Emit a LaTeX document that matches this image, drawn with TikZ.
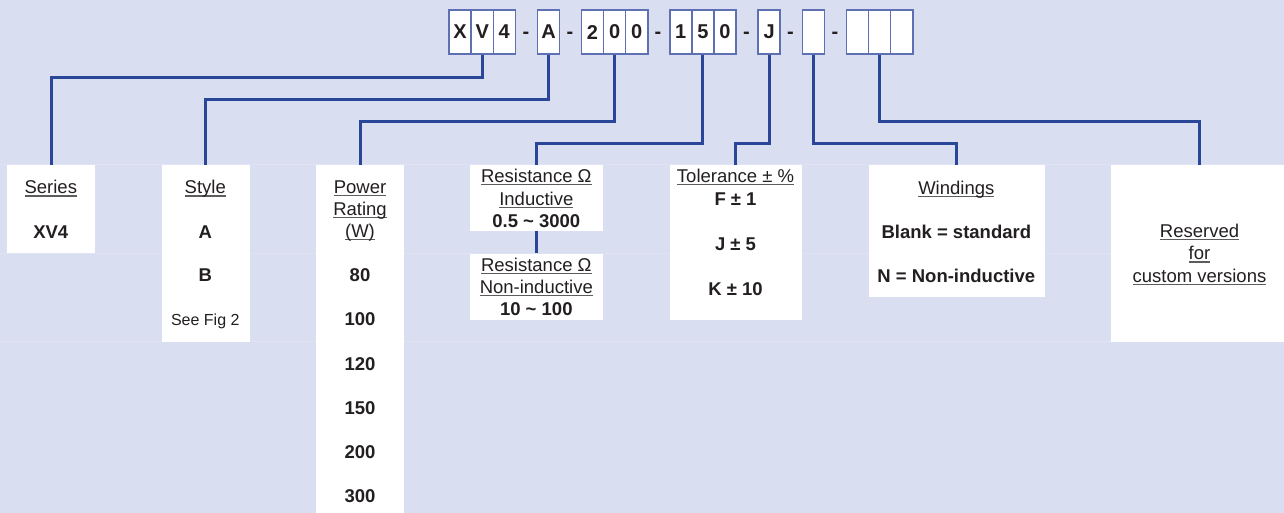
\documentclass[tikz,border=0pt]{standalone}
\usepackage{fontspec}
\setmainfont{Liberation Sans}
\definecolor{bg}{HTML}{D9DEF0}
\definecolor{conn}{HTML}{2A4698}
\definecolor{cellb}{HTML}{5E70B3}
\definecolor{txt}{HTML}{231F20}
\definecolor{ulc}{HTML}{5C5C5C}
\definecolor{gridc}{HTML}{DFE3F3}
\newsavebox\ulbox
\newcommand\ulx[1]{\sbox\ulbox{#1}\rlap{\color{ulc}\rule[-2.8pt]{\wd\ulbox}{1.2pt}}\usebox\ulbox}
\begin{document}
\begin{tikzpicture}[x=1pt,y=-1pt,
  cellbox/.style={draw=cellb,line width=1.5pt,fill=white,minimum width=22.1pt,minimum height=44pt,inner sep=0pt,anchor=north west,font=\fontsize{20}{24}\selectfont\bfseries,text=txt},
  dashtxt/.style={anchor=base,inner sep=0pt,font=\fontsize{20}{24}\selectfont\bfseries,text=txt},
  infobox/.style={fill=white,inner sep=0pt,anchor=north west},
  lbl/.style={anchor=base,inner sep=0pt,font=\fontsize{18.5}{22}\selectfont,text=txt},
  val/.style={anchor=base,inner sep=0pt,font=\fontsize{18.5}{22}\selectfont\bfseries,text=txt},
  small/.style={anchor=base,inner sep=0pt,font=\fontsize{16}{19}\selectfont,text=txt},
  link/.style={draw=conn,line width=3pt}]
\useasboundingbox (0,0) rectangle (1284,513);
\clip (0,0) rectangle (1284,513);
\fill[bg] (0,0) rectangle (1284,513);
% faint table grid
\foreach \yy in {164.7,253.3,341.7}
  \draw[gridc,line width=1pt] (0,\yy) -- (1284,\yy);
% info boxes
\node[infobox,minimum width=88.3pt,minimum height=88pt] (series) at (6.7,164.7) {};
\node[infobox,minimum width=88pt,minimum height=177pt] (style) at (161.3,164.7) {};
\node[infobox,minimum width=88pt,minimum height=360pt] (power) at (316,164.7) {};
\node[infobox,minimum width=132.7pt,minimum height=66pt] (resind) at (470,164.7) {};
\node[infobox,minimum width=132.7pt,minimum height=66pt] (resnon) at (470,253.3) {};
\node[infobox,minimum width=132.4pt,minimum height=154.6pt] (tol) at (669.3,164.7) {};
\node[infobox,minimum width=176pt,minimum height=132pt] (wind) at (868.3,164.7) {};
\node[infobox,minimum width=177pt,minimum height=177pt] (res) at (1111,164.7) {};
% code cells
\node[cellbox] (x1) at (448.3,9.3) {X};
\node[cellbox] (x2) at (470.4,9.3) {V};
\node[cellbox] (x3) at (492.5,9.3) {4};
\node[cellbox] (a1) at (536.7,9.3) {A};
\node[cellbox] (n1) at (580.7,9.3) {2};
\node[cellbox] (n2) at (602.8,9.3) {0};
\node[cellbox] (n3) at (624.9,9.3) {0};
\node[cellbox] (m1) at (669,9.3) {1};
\node[cellbox] (m2) at (691.1,9.3) {5};
\node[cellbox] (m3) at (713.2,9.3) {0};
\node[cellbox] (j1) at (757.3,9.3) {J};
\node[cellbox] (b1) at (801.5,9.3) {};
\node[cellbox] (r1) at (845.7,9.3) {};
\node[cellbox] (r2) at (867.8,9.3) {};
\node[cellbox] (r3) at (889.9,9.3) {};
\node[dashtxt] (d1) at (526,38.6) {-};
\node[dashtxt] (d2) at (570,38.6) {-};
\node[dashtxt] (d3) at (658,38.6) {-};
\node[dashtxt] (d4) at (746.5,38.6) {-};
\node[dashtxt] (d5) at (790.5,38.6) {-};
\node[dashtxt] (d6) at (835,38.6) {-};
% connectors
\draw[link] (x2.south) -- ++(0,22.7) -| (series.north);
\draw[link] (a1.south) -- ++(0,44.4) -| (style.north);
\draw[link] (n2.south) -- ++(0,66.7) -| (power.north);
\draw[link] (m2.south) -- ++(0,89) -| (resind.north);
\draw[link] (j1.south) -- ++(0,89) -| (tol.north);
\draw[link] (b1.south) -- ++(0,89) -| (wind.north);
\draw[link] (r2.south) -- ++(0,66.7) -| (res.north);
\draw[link] (resind.south) -- (resnon.north);
% texts
\node[lbl] (t1) at (50.8,193.7) {\ulx{Series}};
\node[val] (t2) at (50.8,238.3) {XV4};
\node[lbl] (t3) at (205.3,193.7) {\ulx{Style}};
\node[val] (t4) at (205.3,238.3) {A};
\node[val] (t5) at (205.3,281.7) {B};
\node[small] (t6) at (205.3,325.5) {See Fig 2};
\node[lbl] (t7) at (360,193.5) {\ulx{Power}};
\node[lbl] (t8) at (360,215.5) {\ulx{Rating}};
\node[lbl] (t9) at (360,237.5) {\ulx{(W)}};
\node[val] (p1) at (360,281.7) {80};
\node[val] (p2) at (360,325.9) {100};
\node[val] (p3) at (360,370.1) {120};
\node[val] (p4) at (360,414.3) {150};
\node[val] (p5) at (360,458.5) {200};
\node[val] (p6) at (360,502.7) {300};
\node[lbl] (ri1) at (536.3,182.5) {\ulx{Resistance Ω}};
\node[lbl] (ri2) at (536.3,205) {\ulx{Inductive}};
\node[val] (ri3) at (536.3,227.5) {0.5 \textasciitilde{} 3000};
\node[lbl] (rn1) at (536.3,271.5) {\ulx{Resistance Ω}};
\node[lbl] (rn2) at (536.3,293.5) {\ulx{Non-inductive}};
\node[val] (rn3) at (536.3,315.7) {10 \textasciitilde{} 100};
\node[lbl] (to1) at (735.5,182.5) {\ulx{Tolerance ± \%}};
\node[val] (to2) at (735.5,205) {F ± 1};
\node[val] (to3) at (735.5,250.5) {J ± 5};
\node[val] (to4) at (735.5,295.5) {K ± 10};
\node[lbl] (w1) at (956.3,194) {\ulx{Windings}};
\node[val] (w2) at (956.3,238.3) {Blank = standard};
\node[val] (w3) at (956.3,282.3) {N = Non-inductive};
\node[lbl] (rs1) at (1199.5,237.3) {\ulx{Reserved}};
\node[lbl] (rs2) at (1199.5,259.8) {\ulx{for}};
\node[lbl] (rs3) at (1199.5,282) {\ulx{custom versions}};
\end{tikzpicture}
\end{document}
